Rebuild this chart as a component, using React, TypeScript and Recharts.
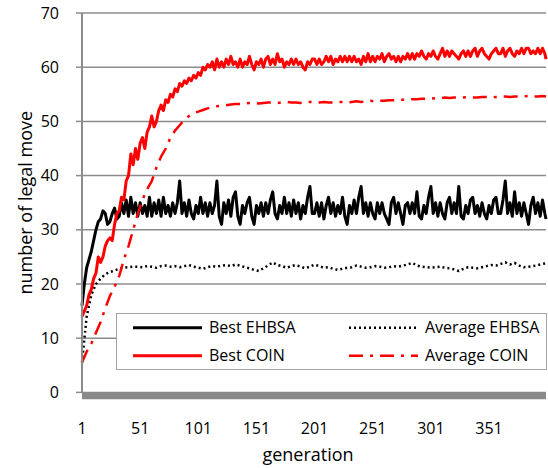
import React from 'react';
import { LineChart, Line, XAxis, YAxis, CartesianGrid, Legend } from 'recharts';

// generations: best runs read every 2nd generation, averages every 4th
const genStep2 = [...Array.from({ length: 200 }, (_, i) => 1 + i * 2), 400];
const genStep4 = [...Array.from({ length: 100 }, (_, i) => 1 + i * 4), 400];

const bestEhbsa = [
  16, 20, 23, 24.5, 26, 28, 30, 31.5, 32, 33.5, 33, 31, 31.5, 33, 34, 32, 32.5, 35, 33, 35.5,
  32.5, 36, 33, 35, 32.5, 35, 33, 34.5, 32.5, 36, 32.5, 35, 33, 35.5, 32.5, 36, 33, 34.5, 32.5, 35,
  33, 35, 39, 33, 35, 32.5, 35.5, 33, 32, 34.5, 33, 36, 33, 35, 32.5, 35, 33, 34.5, 39, 32.5,
  31, 35, 33, 35.5, 32.5, 36, 37, 32.5, 31, 34.5, 33, 35, 36, 32.5, 31, 34.5, 33, 35, 32.5, 35,
  33, 35.5, 37, 33, 32, 34.5, 33, 36, 33, 35, 32.5, 35.5, 33, 35, 32, 34.5, 33, 36, 38, 33,
  33, 35, 32.5, 35, 32, 34.5, 36, 33, 35, 32.5, 34.5, 33, 36, 32.5, 31, 34.5, 33, 35.5, 33, 36,
  38, 33, 35, 32.5, 35, 33, 32, 35, 33, 35, 33, 32, 31, 35, 36, 33, 35, 33, 31, 34.5,
  35, 33, 35, 33, 37, 32.5, 32, 34.5, 33, 36, 38, 33, 35, 32.5, 35, 33, 32, 35, 36, 33,
  35, 33, 38, 32.5, 32, 34.5, 33, 35.5, 36, 33, 34.5, 32.5, 35, 33, 32, 34.5, 33, 35.5, 36, 33,
  33, 35.5, 39, 33, 35, 32.5, 37, 33, 35, 32.5, 35, 33, 31, 34.5, 36, 33, 35, 32.5, 35.5, 33,
  32,
];

const bestCoin = [
  14, 15, 16, 18, 19, 21, 22, 25, 24, 25, 27, 28, 28.5, 28, 31, 33, 33.5, 36, 35.5, 39,
  40, 44, 42, 45, 43, 46, 47, 45, 48, 49, 51, 49, 50, 52, 53, 52, 54, 53.5, 55, 54.5,
  56, 55.5, 57, 56.5, 57.5, 57, 58, 57.5, 58.5, 58, 59, 58.5, 60, 59.5, 60.5, 60, 61, 59.5, 61.5, 60,
  61, 60, 61.5, 60.5, 62, 60.5, 61, 60, 61.5, 60, 61, 60.5, 62, 60.5, 59.5, 61, 60.5, 61.5, 60, 61.5,
  62, 60.5, 61.5, 60.5, 62.5, 61, 61.5, 60, 61, 60.5, 61.5, 60.5, 61.5, 60.5, 61, 60, 59.5, 61, 60.5, 61.5,
  61.5, 60.5, 61.5, 60.5, 61, 62, 61, 62, 60.5, 61.5, 61, 62, 61, 62, 61, 62, 61, 62, 61, 61.5,
  60.5, 62, 61, 62.5, 61, 62, 61, 62, 61.5, 62.5, 61, 62, 62.5, 61.5, 62, 61, 62, 61, 62, 61.5,
  62.5, 61.5, 62.5, 61.5, 62.5, 62, 63, 62, 61.5, 62.5, 62, 63, 62, 61.5, 62.5, 63.5, 62, 63, 62, 63,
  62.5, 62, 61.5, 62.5, 63, 62, 63, 62, 63, 63.5, 62, 63, 63.5, 62.5, 62, 61.5, 62.5, 63, 63.5, 62.5,
  62.5, 63.5, 62, 63, 63.5, 62.5, 62, 63, 62.5, 63.5, 62.5, 63.5, 63.5, 62.5, 63, 62.5, 63.5, 62.5, 63.5, 62.5,
  61.5,
];

const avgEhbsa = [
  5.5, 14, 18, 20, 21, 21.8, 22.2, 22.5, 22.8, 23, 23.1, 23.2, 23.2, 23.1, 23.3, 23.2, 23, 23.3, 23.4, 23.2,
  23.3, 23.1, 23.3, 23.5, 23.2, 23, 22.8, 23.1, 23.3, 23.2, 23.4, 23.5, 23.3, 23.6, 23.4, 23.1, 22.9, 22.6, 22.4, 22.9,
  23.4, 24, 23.5, 23.3, 23, 23.3, 23.5, 23.2, 22.9, 23.2, 23.6, 23.3, 23, 23.1, 22.8, 22.6, 22.8, 23, 23.1, 23.4,
  23.2, 23, 23.1, 23.3, 23.2, 23, 23.1, 23.3, 23.2, 23.4, 23.6, 23.9, 23.4, 23.2, 23.1, 23, 23.1, 23.2, 23, 22.9,
  22.7, 22.4, 22.8, 23.1, 23, 22.9, 23.1, 23.3, 23.5, 23.4, 23.7, 24, 23.6, 23.9, 23.4, 23.1, 23.2, 23.3, 23.5, 23.7, 23.8,
];

const avgCoin = [
  5.5, 7.5, 9, 11, 13, 15.5, 17.8, 19.5, 21.5, 24.5, 27, 30, 33, 35.5, 37.5, 39, 41.5, 43.5, 45, 47,
  48.3, 49.3, 50.3, 51, 51.5, 51.8, 52.1, 52.4, 52.6, 52.8, 52.9, 53, 53.1, 53.2, 53.2, 53.3, 53.4, 53.4, 53.3, 53.4,
  53.5, 53.5, 53.4, 53.5, 53.6, 53.5, 53.5, 53.4, 53.5, 53.6, 53.5, 53.5, 53.6, 53.5, 53.5, 53.6, 53.6, 53.5, 53.6, 53.7,
  53.6, 53.7, 53.8, 53.7, 53.8, 53.8, 53.9, 53.9, 54, 54, 54, 54.1, 54.1, 54.2, 54.2, 54.3, 54.2, 54.3, 54.4, 54.3,
  54.4, 54.4, 54.4, 54.5, 54.4, 54.4, 54.5, 54.5, 54.4, 54.5, 54.6, 54.6, 54.5, 54.6, 54.6, 54.6, 54.7, 54.6, 54.6, 54.7, 54.6,
];

const xTicks = [1, 51, 101, 151, 201, 251, 301, 351];
const yTicks = [0, 10, 20, 30, 40, 50, 60, 70];

const toRows = (gens: number[], values: number[]) => gens.map((gen, i) => ({ gen, value: values[i] }));

const series = [
  { key: 'bestEhbsa', name: 'Best EHBSA', color: '#000000', dash: undefined, width: 3, rows: toRows(genStep2, bestEhbsa) },
  { key: 'avgEhbsa', name: 'Average EHBSA', color: '#000000', dash: '2 3', width: 2.5, rows: toRows(genStep4, avgEhbsa) },
  { key: 'bestCoin', name: 'Best COIN', color: '#ff0000', dash: undefined, width: 3, rows: toRows(genStep2, bestCoin) },
  { key: 'avgCoin', name: 'Average COIN', color: '#ff0000', dash: '14 7 3 7', width: 2.5, rows: toRows(genStep4, avgCoin) },
];

const XTick = ({ x, y, payload }: any) => (
  <text x={x} y={y} dy={11.4} textAnchor="middle" fontSize={16} fill="#000">
    {payload.value}
  </text>
);

const YLabel = ({ viewBox }: any) => {
  const cx = 25;
  const cy = viewBox.y + viewBox.height / 2;
  return (
    <text
      x={cx}
      y={cy}
      transform={`rotate(-90, ${cx}, ${cy})`}
      textAnchor="middle"
      dominantBaseline="central"
      fontSize={18}
      fill="#000"
    >
      number of legal move
    </text>
  );
};

const LegendBox = () => {
  const cols = [17, 233];
  const rows = [14.7, 42.7];
  return (
    <svg width={432} height={58} style={{ display: 'block' }}>
      <rect x={0.5} y={0.5} width={430} height={56} fill="#fff" stroke="#a6a6a6" />
      {series.map((s, i) => {
        const cx = cols[i % 2];
        const cy = rows[Math.floor(i / 2)];
        return (
          <g key={s.key}>
            <line
              x1={cx}
              x2={cx + 69}
              y1={cy}
              y2={cy}
              stroke={s.color}
              strokeWidth={s.width}
              strokeDasharray={s.dash}
            />
            <text x={cx + 76} y={cy + 5.6} fontSize={16} fill="#000">
              {s.name}
            </text>
          </g>
        );
      })}
    </svg>
  );
};

export default function App() {
  return (
    <div style={{ position: 'absolute', left: 0, top: 0, fontFamily: '"Open Sans", sans-serif', background: '#fff' }}>
      <LineChart width={548} height={468} margin={{ top: 13, right: 2, left: 0, bottom: 0 }}>
        <CartesianGrid vertical={false} stroke="#8c8c8c" strokeWidth={1.5} />
        <XAxis
          dataKey="gen"
          type="number"
          domain={[1, 400]}
          ticks={xTicks}
          interval={0}
          height={75.6}
          tickLine={false}
          tickMargin={24}
          tick={<XTick />}
          allowDuplicatedCategory={false}
          axisLine={{ stroke: '#898989', strokeWidth: 7, transform: 'translate(0, 3.4)' }}
          label={{ value: 'generation', position: 'insideBottom', offset: 7, dx: -6, fontSize: 18, fill: '#000' }}
        />
        <YAxis
          domain={[0, 70]}
          ticks={yTicks}
          interval={0}
          width={82}
          tickSize={6}
          tickMargin={17}
          tick={{ fontSize: 16, fill: '#000' }}
          axisLine={{ stroke: '#8c8c8c', strokeWidth: 2 }}
          tickLine={{ stroke: '#8c8c8c', strokeWidth: 1.5 }}
          label={<YLabel />}
        />
        <Legend
          layout="vertical"
          align="center"
          verticalAlign="middle"
          content={<LegendBox />}
          wrapperStyle={{ left: 116, top: 313, width: 432, height: 58 }}
        />
        {series.map((s) => (
          <Line
            key={s.key}
            data={s.rows}
            dataKey="value"
            name={s.name}
            stroke={s.color}
            strokeWidth={s.width}
            strokeDasharray={s.dash}
            strokeLinejoin="round"
            dot={false}
            activeDot={false}
            isAnimationActive={false}
          />
        ))}
      </LineChart>
    </div>
  );
}
